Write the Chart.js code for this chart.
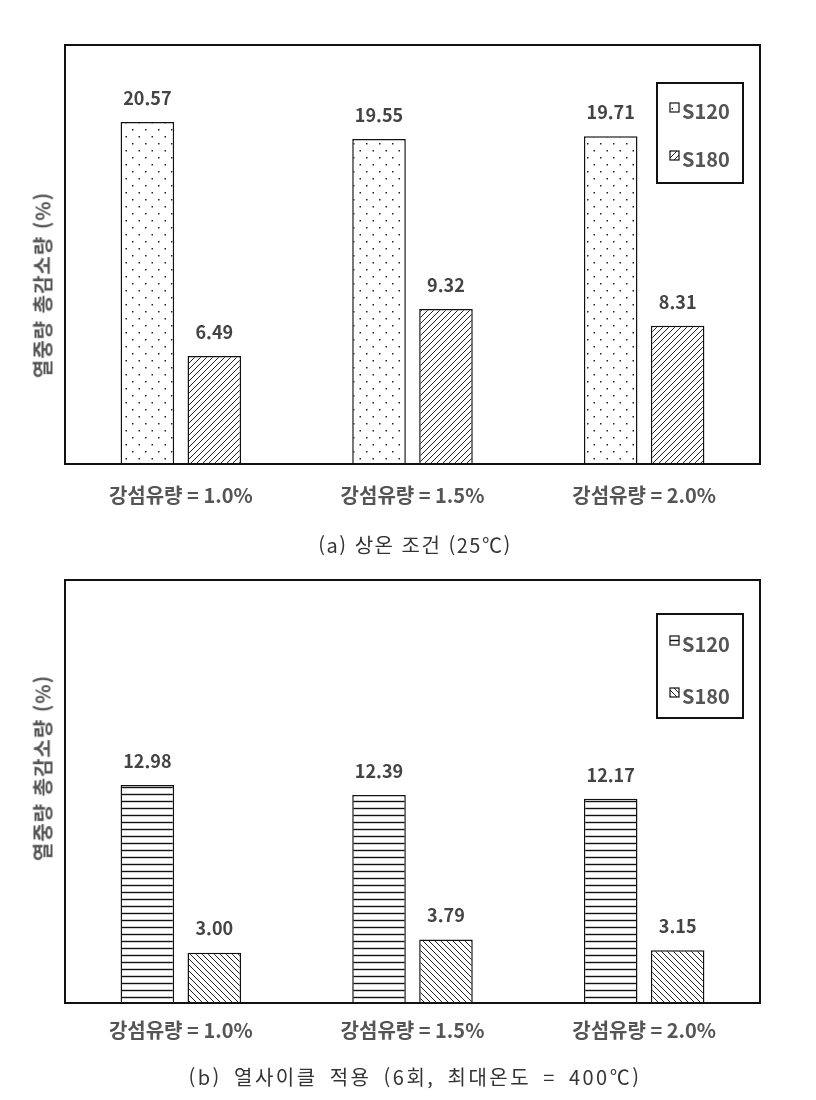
<!DOCTYPE html>
<html lang="ko">
<head>
  <meta charset="UTF-8">
  <title>열중량 총감소량</title>
  <script src="https://cdn.jsdelivr.net/npm/chart.js"></script>
  <style>
    body { margin: 0; background: #fff; font-family: "Noto Sans CJK KR", sans-serif; }
    .wrap { position: absolute; left: 0; width: 816px; }
    .caption { position: absolute; left: 0; width: 830px; text-align: center; font-size: 20px; color: #333; letter-spacing: 1.5px; }
    .ytitle { position: absolute; font-size: 20px; font-weight: bold; color: #555; white-space: nowrap; letter-spacing: 1px;
              transform: translate(-50%, -50%) rotate(-90deg); }
  </style>
</head>
<body>
  <div class="wrap" style="top:0"><canvas id="chartA" width="816" height="541"></canvas></div>
  <div class="ytitle" style="left:42px; top:285px">열중량 총감소량 (%)</div>
  <div class="caption" style="top:530px">(a) 상온 조건 (25℃)</div>

  <div class="wrap" style="top:560px"><canvas id="chartB" width="816" height="517"></canvas></div>
  <div class="ytitle" style="left:42px; top:768px">열중량 총감소량 (%)</div>
  <div class="caption" style="top:1062px; letter-spacing: 2.5px; word-spacing: 4px">(b) 열사이클 적용 (6회, 최대온도 = 400℃)</div>

  <script>
    const categories = ['강섬유량 = 1.0%', '강섬유량 = 1.5%', '강섬유량 = 2.0%'];
    const seriesNames = ['S120', 'S180'];
    // (a) room temperature
    const roomS120 = [20.57, 19.55, 19.71];
    const roomS180 = [6.49, 9.32, 8.31];
    // (b) thermal cycles
    const cycleS120 = [12.98, 12.39, 12.17];
    const cycleS180 = [3.00, 3.79, 3.15];
    const yMax = 25.2;

    function makePattern(kind) {
      const c = document.createElement('canvas');
      const g = c.getContext('2d');
      if (kind === 'dots') {
        c.width = 13; c.height = 14;
        g.fillStyle = '#fff'; g.fillRect(0, 0, 13, 14);
        g.fillStyle = '#222';
        g.fillRect(2, 3, 1.5, 1.5);
        g.fillRect(8.5, 10, 1.5, 1.5);
      } else if (kind === 'hlines') {
        c.width = 7; c.height = 7;
        g.fillStyle = '#fff'; g.fillRect(0, 0, 7, 7);
        g.strokeStyle = '#111'; g.lineWidth = 1.4;
        g.beginPath(); g.moveTo(0, 3.5); g.lineTo(7, 3.5); g.stroke();
      } else {
        c.width = 6; c.height = 6;
        g.fillStyle = '#fff'; g.fillRect(0, 0, 6, 6);
        g.strokeStyle = '#222'; g.lineWidth = 1;
        g.beginPath();
        if (kind === 'slash') {
          g.moveTo(0, 6); g.lineTo(6, 0);
          g.moveTo(-1, 1); g.lineTo(1, -1);
          g.moveTo(5, 7); g.lineTo(7, 5);
        } else {
          g.moveTo(0, 0); g.lineTo(6, 6);
          g.moveTo(-1, 5); g.lineTo(1, 7);
          g.moveTo(5, -1); g.lineTo(7, 1);
        }
        g.stroke();
      }
      return g.createPattern(c, 'repeat');
    }

    // frame, value labels and boxed legend
    const decorPlugin = {
      id: 'decor',
      afterDatasetsDraw(chart, args, opts) {
        const ctx = chart.ctx;
        const a = chart.chartArea;
        ctx.save();
        ctx.strokeStyle = '#111';
        ctx.lineWidth = 2;
        ctx.strokeRect(a.left, a.top, a.right - a.left, a.bottom - a.top);

        ctx.font = 'bold 18px "Noto Sans CJK KR", sans-serif';
        ctx.fillStyle = '#444';
        ctx.textAlign = 'center';
        ctx.textBaseline = 'middle';
        chart.data.datasets.forEach((ds, i) => {
          chart.getDatasetMeta(i).data.forEach((bar, j) => {
            ctx.fillText(ds.data[j].toFixed(2), bar.x, bar.y - 24);
          });
        });

        const lb = opts.box;
        ctx.lineWidth = 2;
        ctx.strokeRect(lb.x, lb.y, lb.w, lb.h);
        ctx.font = '600 20px "Noto Sans CJK KR", sans-serif';
        ctx.textAlign = 'left';
        chart.data.datasets.forEach((ds, i) => {
          const cy = lb.y + opts.rows[i];
          ctx.fillStyle = ds.backgroundColor;
          ctx.fillRect(lb.x + 13, cy - 7, 9, 9);
          ctx.lineWidth = 1.2;
          ctx.strokeStyle = '#111';
          ctx.strokeRect(lb.x + 13, cy - 7, 9, 9);
          ctx.fillStyle = '#555';
          ctx.fillText(ds.label, lb.x + 25, cy + 1);
        });
        ctx.restore();
      }
    };

    function buildChart(id, s120, s180, fills, pad, tickPad, legend) {
      const ctx = document.getElementById(id).getContext('2d');
      return new Chart(ctx, {
        type: 'bar',
        data: {
          labels: categories,
          datasets: [
            { label: seriesNames[0], data: s120, backgroundColor: makePattern(fills[0]),
              borderColor: '#111', borderWidth: 1.5 },
            { label: seriesNames[1], data: s180, backgroundColor: makePattern(fills[1]),
              borderColor: '#111', borderWidth: 1.5 }
          ]
        },
        options: {
          responsive: false,
          animation: false,
          devicePixelRatio: 1,
          categoryPercentage: 0.578,
          barPercentage: 0.8,
          layout: { padding: pad },
          plugins: {
            legend: { display: false },
            tooltip: { enabled: false },
            decor: legend
          },
          scales: {
            x: {
              grid: { display: false, drawTicks: false },
              border: { display: false },
              ticks: {
                padding: tickPad,
                color: '#555',
                font: { family: '"Noto Sans CJK KR", sans-serif', size: 20, weight: 'bold' }
              }
            },
            y: { display: false, min: 0, max: yMax }
          }
        },
        plugins: [decorPlugin]
      });
    }

    buildChart('chartA', roomS120, roomS180, ['dots', 'slash'],
      { left: 65, right: 56, top: 45, bottom: 15 }, 19,
      { box: { x: 657, y: 83, w: 86, h: 100 }, rows: [27, 75] });

    buildChart('chartB', cycleS120, cycleS180, ['hlines', 'backslash'],
      { left: 65, right: 56, top: 20, bottom: 20 }, 15,
      { box: { x: 657, y: 54, w: 86, h: 104 }, rows: [29, 81] });
  </script>
</body>
</html>
